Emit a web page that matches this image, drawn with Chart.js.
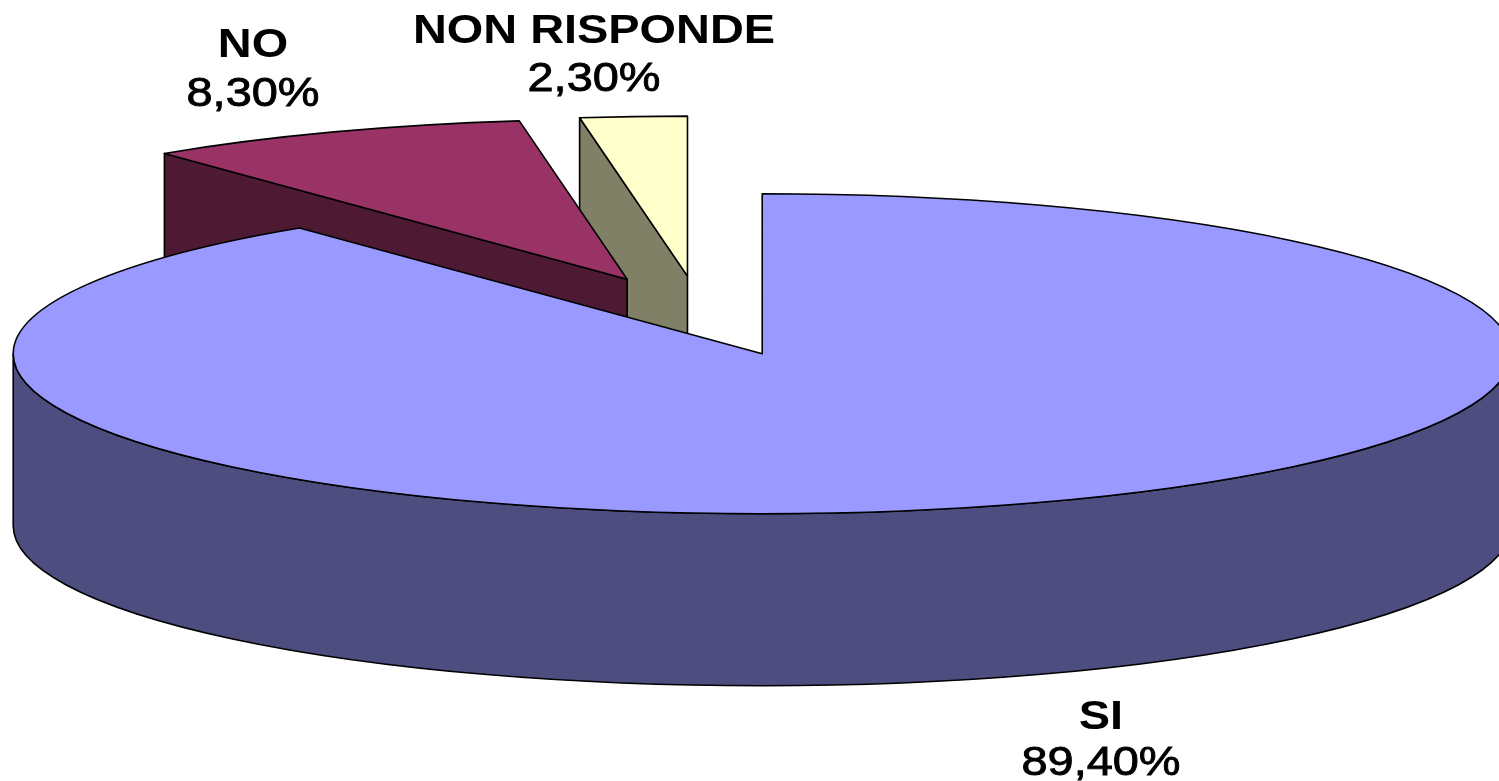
<!DOCTYPE html>
<html>
<head>
<meta charset="utf-8">
<style>html,body{margin:0;padding:0;background:#fff;overflow:hidden}canvas{display:block}</style>
<script src="https://cdn.jsdelivr.net/npm/chart.js@4"></script>
</head>
<body>
<canvas id="c" width="1499" height="781"></canvas>
<script>
const categories = ['SI', 'NO', 'NON RISPONDE'];
const values = [89.4, 8.3, 2.3];
const valueLabels = ['89,40%', '8,30%', '2,30%'];
const topColors = ['#9999FF', '#993366', '#FFFFCC'];
const sideColors = ['#4D4D80', '#4D1933', '#808066'];
const labelCenters = [[1101, 718, 764], [253, 46, 95], [594, 32, 80]];

const RADIUS = 749, SQUASH = 160 / 749, DEPTH = 172, EXPLODE = 0.25, CENTER_Y = 316;
const drawOrder = [2, 1, 0];

const pie3d = {
  id: 'pie3d',
  beforeDatasetsDraw(chart) {
    const ctx = chart.ctx;
    const arcs = chart.getDatasetMeta(0).data;
    drawOrder.forEach(i => {
      const arc = arcs[i];
      const s = arc.startAngle, e = arc.endAngle, m = (s + e) / 2, R = arc.outerRadius;
      const k = SQUASH;
      const ox = Math.cos(m) * EXPLODE * R, oy = Math.sin(m) * EXPLODE * R;
      const cx = arc.x + ox, cy = CENTER_Y + oy * k;
      const rx = R, ry = R * k;
      const pt = (a, d) => [cx + rx * Math.cos(a), cy + ry * Math.sin(a) + d];
      ctx.save();
      ctx.lineWidth = 1.6;
      ctx.strokeStyle = '#000';
      ctx.lineJoin = 'round';
      ctx.fillStyle = sideColors[i];

      // cut faces: only those turned towards the viewer
      const faces = [];
      if (Math.sin(s) < 0 && Math.cos(s) < 0) faces.push(s);
      if (Math.sin(e) < 0 && Math.cos(e) > 0) faces.push(e);
      faces.forEach(a => {
        const p = pt(a, 0);
        ctx.beginPath();
        ctx.moveTo(cx, cy);
        ctx.lineTo(p[0], p[1]);
        ctx.lineTo(p[0], p[1] + DEPTH);
        ctx.lineTo(cx, cy + DEPTH);
        ctx.closePath();
        ctx.fill();
        ctx.stroke();
      });
      // outer wall: the front half of the rim
      const a0 = Math.max(s, 0), a1 = Math.min(e, Math.PI);
      if (a1 > a0) {
        ctx.beginPath();
        ctx.ellipse(cx, cy, rx, ry, 0, a0, a1);
        ctx.ellipse(cx, cy + DEPTH, rx, ry, 0, a1, a0, true);
        ctx.closePath();
        ctx.fill();
        ctx.stroke();
      }
      // top face, drawn by the library's arc element under a squash transform
      ctx.save();
      ctx.translate(cx, cy);
      ctx.scale(1, k);
      ctx.translate(-arc.x, -arc.y);
      arc.draw(ctx);
      ctx.restore();
      ctx.beginPath();
      ctx.moveTo(cx, cy);
      ctx.ellipse(cx, cy, rx, ry, 0, s, e);
      ctx.closePath();
      ctx.stroke();
      ctx.restore();
    });
    return false;
  },
  afterDraw(chart) {
    const ctx = chart.ctx;
    ctx.save();
    ctx.fillStyle = '#000';
    ctx.strokeStyle = '#000';
    ctx.textAlign = 'center';
    ctx.textBaseline = 'middle';
    const put = (t, x, y, font, sw) => {
      ctx.save();
      ctx.translate(x, y);
      ctx.scale(1.13, 1);
      ctx.font = font;
      ctx.fillText(t, 0, 0);
      if (sw) { ctx.lineWidth = sw; ctx.strokeText(t, 0, 0); }
      ctx.restore();
    };
    categories.forEach((c, i) => {
      const [x, y1, y2] = labelCenters[i];
      put(c, x, y1, 'bold 41.5px "Liberation Sans"');
      put(valueLabels[i], x, y2, '41.5px "Liberation Sans"', 0.9);
    });
    ctx.restore();
  }
};

new Chart(document.getElementById('c'), {
  type: 'pie',
  data: {
    labels: categories,
    datasets: [{ data: values, backgroundColor: topColors, borderWidth: 0, radius: RADIUS }]
  },
  options: {
    responsive: false,
    animation: false,
    rotation: 0,
    layout: { padding: { right: 97 } },
    plugins: { legend: { display: false }, tooltip: { enabled: false }, title: { display: false } }
  },
  plugins: [pie3d]
});
</script>
</body>
</html>
